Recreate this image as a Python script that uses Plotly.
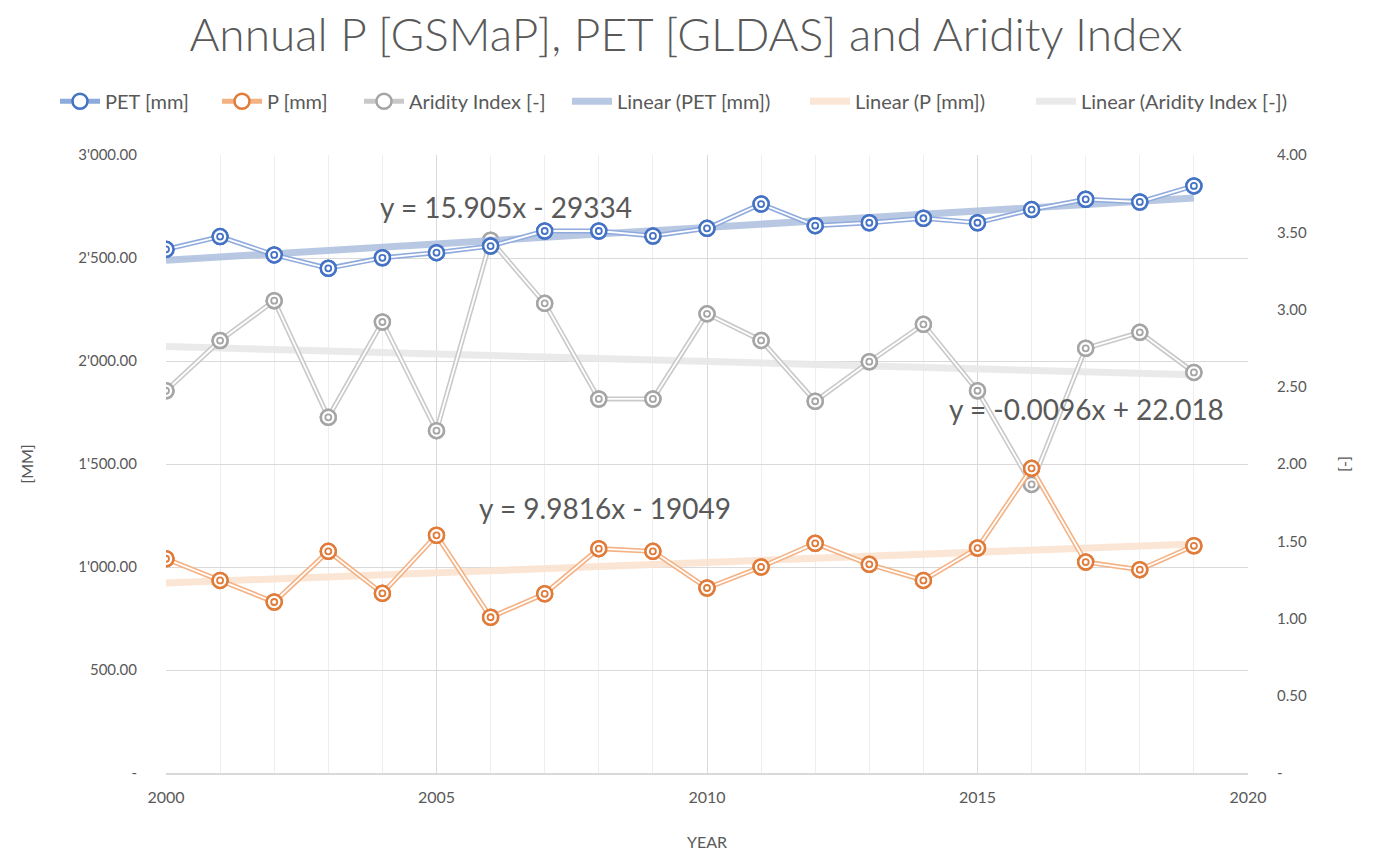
import numpy as np
import plotly.graph_objects as go

years = list(range(2000, 2020))
pet_mm = [2542, 2604, 2515, 2450, 2501, 2526, 2558, 2631, 2631, 2607,
          2644, 2762, 2657, 2671, 2693, 2671, 2735, 2785, 2772, 2850]
p_mm = [1040, 935, 830, 1076, 872, 1154, 756, 870, 1089, 1076,
        898, 1000, 1115, 1013, 935, 1092, 1479, 1024, 987, 1103]
aridity = [2.474, 2.799, 3.057, 2.302, 2.919, 2.216, 3.448, 3.040, 2.421, 2.421,
           2.972, 2.800, 2.406, 2.662, 2.904, 2.474, 1.868, 2.749, 2.852, 2.593]

left_ticks = [0, 500, 1000, 1500, 2000, 2500, 3000]
left_labels = ["-", "500.00", "1'000.00", "1'500.00", "2'000.00", "2'500.00", "3'000.00"]
right_ticks = [0, 0.5, 1.0, 1.5, 2.0, 2.5, 3.0, 3.5, 4.0]
right_labels = ["-", "0.50", "1.00", "1.50", "2.00", "2.50", "3.00", "3.50", "4.00"]

eq_pet = "y = 15.905x - 29334"
eq_p = "y = 9.9816x - 19049"
eq_ai = "y = -0.0096x + 22.018"

FONT = "Lato"
TXT = "#595959"

fig = go.Figure()


def trend(vals):
    k, b = np.polyfit(years, vals, 1)
    return [k * y + b for y in years]


def add_series(name, vals, ax, ring, line, leg):
    fig.add_trace(go.Scatter(
        x=years, y=vals, yaxis=ax, name=name, mode="lines+markers",
        line=dict(color=line, width=5),
        marker=dict(symbol="circle", size=15, color="white",
                    line=dict(color=ring, width=2.5)),
        legend=leg, showlegend=True))
    fig.add_trace(go.Scatter(
        x=years, y=vals, yaxis=ax, mode="lines",
        line=dict(color="white", width=1.8), showlegend=False, hoverinfo="skip"))
    fig.add_trace(go.Scatter(
        x=years, y=vals, yaxis=ax, mode="markers",
        marker=dict(symbol="circle", size=15, color="white",
                    line=dict(color=ring, width=2.5)),
        showlegend=False, hoverinfo="skip"))
    fig.add_trace(go.Scatter(
        x=years, y=vals, yaxis=ax, mode="markers",
        marker=dict(symbol="circle", size=6, color="white",
                    line=dict(color=ring, width=1.8)),
        showlegend=False, hoverinfo="skip"))


def add_trend(name, vals, ax, color, leg):
    fig.add_trace(go.Scatter(
        x=years, y=trend(vals), yaxis=ax, name=name, mode="lines",
        line=dict(color=color, width=7), legend=leg, hoverinfo="skip"))


add_trend("Linear (Aridity Index [-])", aridity, "y", "rgba(232,232,232,0.9)", "legend6")
add_series("Aridity Index [-]", aridity, "y", "#A5A5A5", "#C9C9C9", "legend3")
add_trend("Linear (PET [mm])", pet_mm, "y2", "rgba(172,190,222,0.85)", "legend4")
add_trend("Linear (P [mm])", p_mm, "y2", "rgba(251,226,208,0.9)", "legend5")
add_series("PET [mm]", pet_mm, "y2", "#4472C4", "#8FAADC", "legend")
add_series("P [mm]", p_mm, "y2", "#E07B39", "#F4B183", "legend2")

annos = [
    dict(text=eq_pet, x=0.314, y=0.916),
    dict(text=eq_ai, x=0.851, y=0.589),
    dict(text=eq_p, x=0.406, y=0.429),
]
for a in annos:
    fig.add_annotation(text=a["text"], x=a["x"], y=a["y"], xref="paper", yref="paper",
                       showarrow=False, xanchor="center", yanchor="middle",
                       font=dict(family=FONT, size=28, color=TXT))


def leg(px):
    return dict(orientation="h", xref="paper", xanchor="left",
                x=(px - 5 - 166) / 1082,
                y=1.087, yanchor="middle", font=dict(size=20, color=TXT),
                bgcolor="rgba(0,0,0,0)", itemwidth=40)


# the page adds an 8px body margin, so the figure is placed 8px right/down
fig.update_layout(
    width=1373, height=853,
    paper_bgcolor="white", plot_bgcolor="white",
    margin=dict(l=158, r=133, t=147, b=88, autoexpand=False),
    font=dict(family=FONT, size=15, color=TXT),
    title=dict(text="Annual P [GSMaP], PET [GLDAS] and Aridity Index",
               x=(686 - 8) / 1373, xref="container", xanchor="center",
               y=1 - 27 / 853, yref="container", yanchor="middle",
               font=dict(family=FONT, size=46, color=TXT, weight=300)),
    legend=leg(60), legend2=leg(222), legend3=leg(364),
    legend4=leg(572), legend5=leg(810), legend6=leg(1036),
    showlegend=True,
    xaxis=dict(range=[2000, 2020], tickvals=[2000, 2005, 2010, 2015, 2020],
               ticktext=["2000", "2005", "2010", "2015", "2020"],
               showgrid=True, gridcolor="#D9D9D9", gridwidth=1,
               minor=dict(dtick=1, tick0=2000, showgrid=True, gridcolor="#EEEEEE", gridwidth=1),
               showline=True, linecolor="#D9D9D9", linewidth=1.5, zeroline=False,
               ticks="", ticklabelstandoff=9,
               tickfont=dict(size=16, color=TXT),
               title=dict(text="YEAR", standoff=32, font=dict(size=16, color=TXT))),
    yaxis=dict(range=[0, 4], side="right", tickvals=right_ticks, ticktext=right_labels,
               showgrid=False, zeroline=False, showline=False,
               ticks="outside", ticklen=25, tickcolor="rgba(0,0,0,0)",
               tickfont=dict(size=15, color=TXT),
               title=dict(text="[-]", standoff=32, font=dict(size=16, color=TXT))),
    yaxis2=dict(range=[0, 3000], side="left", overlaying="y", anchor="x",
                tickvals=left_ticks, ticktext=left_labels,
                showgrid=True, gridcolor="#D9D9D9", gridwidth=1,
                zeroline=False, showline=False, ticks="",
                ticklabelstandoff=28, tickfont=dict(size=15, color=TXT),
                title=dict(text="[MM]", standoff=40, font=dict(size=16, color=TXT))),
)

fig.write_html("out.html")
